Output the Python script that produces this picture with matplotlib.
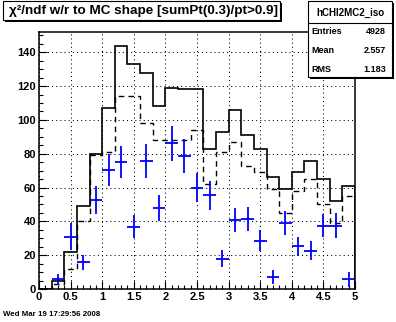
"""
chi2/ndf distribution compared with MC shape, ROOT-style canvas
"""

import numpy as np
import matplotlib.pyplot as plt
from matplotlib.patches import Rectangle
from matplotlib.ticker import MultipleLocator

plt.rcParams['font.family'] = ['Liberation Sans', 'DejaVu Sans']
plt.rcParams['font.weight'] = 'bold'

# binning
edges = np.linspace(0, 5, 26)

# histograms (counts per bin)
h_solid = [0, 5, 22, 49, 80, 107, 144, 133, 128, 108, 119, 118, 118,
           83, 93, 106, 91, 83, 66, 59, 69, 76, 65, 52, 61]
h_dashed = [0, 3, 12, 40, 79, 81, 114, 114, 98, 88, 88, 88, 94,
            62, 81, 87, 73, 69, 59, 45, 58, 65, 50, 39, 55]

# data points with errors
x_pts = [0.3, 0.5, 0.7, 0.9, 1.1, 1.3, 1.5, 1.7, 1.9, 2.1, 2.3, 2.5,
         2.7, 2.9, 3.1, 3.3, 3.5, 3.7, 3.9, 4.1, 4.3, 4.5, 4.7, 4.9]
y_pts = [5.7, 30.8, 15.9, 52.4, 70.4, 75, 36.9, 75.7, 48, 86.3, 78.6, 60,
         55.3, 18, 41, 41.4, 28.6, 7, 39.2, 25.3, 22.7, 37.5, 37.5, 5.7]
y_err = [3.2, 8, 4.5, 8.3, 9.4, 9.5, 6.8, 9.8, 7.6, 10.4, 10, 8.8,
         8.5, 5, 7, 7, 6.2, 4, 7, 5.5, 5.5, 7, 7.3, 4.5]

title = "χ²/ndf w/r to MC shape [sumPt(0.3)/pt>0.9]"
hname = "hCHI2MC2_iso"
stats = [("Entries", "4928"), ("Mean", "2.557"), ("RMS", "1.183")]
datestr = "Wed Mar 19 17:29:56 2008"

W, H = 396, 322
fig = plt.figure(figsize=(W / 100, H / 100), dpi=100)
fig.patch.set_facecolor('white')

# axes placed in pixel units
ax_l, ax_r, ax_t, ax_b = 39, 355, 32, 289
ax = fig.add_axes([ax_l / W, 1 - ax_b / H, (ax_r - ax_l) / W, (ax_b - ax_t) / H])

ax.stairs(h_solid, edges, color='black', lw=1.2, baseline=0)
ax.stairs(h_dashed, edges, color='black', lw=1.0, linestyle=(0, (4, 3)), baseline=0)
ax.errorbar(x_pts, y_pts, xerr=0.1, yerr=y_err, fmt='none', ecolor='#0000ff',
            elinewidth=1.3, capsize=0)

ax.set_xlim(0, 5)
ax.set_ylim(0, 152)
ax.xaxis.set_major_locator(MultipleLocator(0.5))
ax.xaxis.set_minor_locator(MultipleLocator(0.1))
ax.yaxis.set_major_locator(MultipleLocator(20))
ax.yaxis.set_minor_locator(MultipleLocator(5))
ax.xaxis.set_major_formatter(plt.FuncFormatter(lambda v, p: f"{v:g}"))
ax.tick_params(which='both', direction='in', top=False, right=False,
               labelsize=8, width=0.8, pad=2)
ax.tick_params(which='major', length=6)
ax.tick_params(which='minor', length=3.2)
ax.grid(which='major', color='black', lw=0.75, linestyle=(0, (1, 3)))
for s in ax.spines.values():
    s.set_linewidth(1.1)


def pave(x0, y0, x1, y1, shadow=2):
    # box in pixel coords (top-left origin) with a drop shadow
    sh = Rectangle(((x0 + shadow) / W, 1 - (y1 + shadow) / H), (x1 - x0) / W,
                   (y1 - y0) / H, transform=fig.transFigure, facecolor='black',
                   edgecolor='black', lw=0)
    bx = Rectangle((x0 / W, 1 - y1 / H), (x1 - x0) / W, (y1 - y0) / H,
                   transform=fig.transFigure, facecolor='white',
                   edgecolor='black', lw=0.8)
    fig.add_artist(sh)
    fig.add_artist(bx)


def ftext(x, y, s, **kw):
    fig.text(x / W, 1 - y / H, s, fontweight='bold', **kw)


# title box
pave(3, 1, 280, 20)
ftext(9, 11, title, fontsize=9.7, va='center', ha='left')

# stats box
pave(308, 1, 392, 77)
fig.add_artist(plt.Line2D([308 / W, 392 / W], [1 - 23 / H, 1 - 23 / H],
                          transform=fig.transFigure, color='black', lw=0.8))
ftext(350, 12.5, hname, fontsize=7, va='center', ha='center')
for i, (k, v) in enumerate(stats):
    yy = 32 + i * 18.5
    ftext(311, yy, k, fontsize=6.5, va='center', ha='left')
    ftext(386, yy, v, fontsize=6.5, va='center', ha='right')

ftext(3, 315, datestr, fontsize=5.7, va='center', ha='left')

plt.savefig('out.png', dpi=100)
